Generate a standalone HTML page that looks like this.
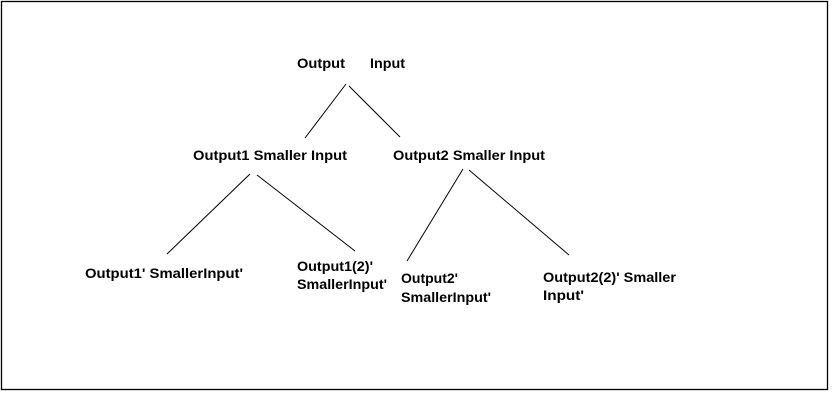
<!DOCTYPE html>
<html><head><meta charset="utf-8"><style>
html,body{margin:0;padding:0;background:#fff;}
svg{display:block;}
text{font-family:"Liberation Sans",sans-serif;font-weight:bold;font-size:14px;fill:#000;}
</style></head><body>
<svg width="840" height="405" viewBox="0 0 840 405">
<rect x="1.5" y="1.5" width="826" height="388" fill="#fff" stroke="#000" stroke-width="1.3"/>
<g stroke="#000" stroke-width="1" fill="none">
<line x1="346" y1="84" x2="305" y2="138"/>
<line x1="349" y1="86" x2="400" y2="137"/>
<line x1="250" y1="174" x2="167" y2="254"/>
<line x1="257" y1="175" x2="355" y2="251"/>
<line x1="463" y1="169" x2="407" y2="261"/>
<line x1="469" y1="170" x2="569" y2="255"/>
</g>
<text x="297" y="68" textLength="48" lengthAdjust="spacingAndGlyphs">Output</text>
<text x="370" y="68" textLength="35" lengthAdjust="spacingAndGlyphs">Input</text>
<text x="193" y="160" textLength="154" lengthAdjust="spacingAndGlyphs">Output1 Smaller Input</text>
<text x="393" y="160" textLength="152" lengthAdjust="spacingAndGlyphs">Output2 Smaller Input</text>
<text x="85" y="278" textLength="158" lengthAdjust="spacingAndGlyphs">Output1' SmallerInput'</text>
<text x="297" y="271" textLength="76" lengthAdjust="spacingAndGlyphs">Output1(2)'</text>
<text x="297" y="289" textLength="90" lengthAdjust="spacingAndGlyphs">SmallerInput'</text>
<text x="401" y="283" textLength="57" lengthAdjust="spacingAndGlyphs">Output2'</text>
<text x="401" y="302" textLength="90" lengthAdjust="spacingAndGlyphs">SmallerInput'</text>
<text x="543" y="282" textLength="133" lengthAdjust="spacingAndGlyphs">Output2(2)' Smaller</text>
<text x="543" y="300" textLength="41" lengthAdjust="spacingAndGlyphs">Input'</text>
</svg>
</body></html>
